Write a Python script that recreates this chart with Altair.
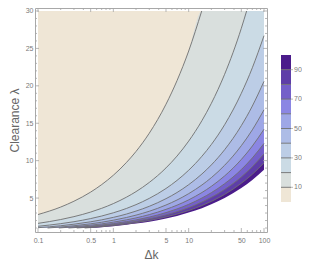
import altair as alt
import pandas as pd

# ---------------- data ----------------
dk_major = [0.1, 0.5, 1, 5, 10, 50, 100]
dk_minor = [0.2, 0.3, 0.4, 0.6, 0.7, 0.8, 0.9, 2, 3, 4, 6, 7, 8, 9,
            20, 30, 40, 60, 70, 80, 90]
lam_major = [5, 10, 15, 20, 25, 30]
lam_minor = [1, 2, 3, 4, 6, 7, 8, 9, 11, 12, 13, 14, 16, 17, 18, 19,
             21, 22, 23, 24, 26, 27, 28, 29]

levels = [10, 20, 30, 40, 50, 60, 70, 80, 90, 100]
legend_labels = [10, 30, 50, 70, 90]

band_names = ["0-10", "10-20", "20-30", "30-40", "40-50",
              "50-60", "60-70", "70-80", "80-90", "90-100"]
band_colors = ["#efe6d6", "#d9dfdd", "#cbdbe5", "#bccde6", "#adbce6",
               "#9ea7e6", "#8b86e3", "#7460c9", "#5e3ea8", "#4b1c8b"]

# contour lines (Δk, λ)
c10_dk = [0.1, 0.2, 0.3, 0.5, 0.7, 1, 1.5, 2, 3, 5, 7, 10, 14.9, 100]
c10_lam = [2.80, 3.80, 4.58, 5.80, 6.80, 8.05, 9.78, 11.23, 13.67, 17.54, 20.69, 24.65, 30, 30]

c20_dk = [0.1, 0.2, 0.3, 0.5, 0.7, 1, 1.5, 2, 3, 5, 7, 10, 15, 20, 30, 50, 58.8, 100]
c20_lam = [1.62, 2.13, 2.52, 3.13, 3.63, 4.26, 5.13, 5.86, 7.09, 9.03, 10.61, 12.61, 15.35, 17.66, 21.54, 27.69, 30, 30]

c30_dk = [0.1, 0.2, 0.3, 0.5, 0.7, 1, 1.5, 2, 3, 5, 7, 10, 15, 20, 30, 50, 70, 100]
c30_lam = [1.23, 1.58, 1.84, 2.26, 2.60, 3.03, 3.62, 4.12, 4.96, 6.28, 7.36, 8.72, 10.59, 12.16, 14.80, 19.00, 22.41, 26.70]

c40_dk = [0.1, 0.2, 0.3, 0.5, 0.7, 1, 1.5, 2, 3, 5, 7, 10, 15, 20, 30, 50, 70, 100]
c40_lam = [1.04, 1.30, 1.51, 1.83, 2.09, 2.42, 2.87, 3.26, 3.90, 4.92, 5.74, 6.79, 8.22, 9.43, 11.46, 14.68, 17.30, 20.60]

c50_dk = [0.134, 0.2, 0.3, 0.5, 0.7, 1, 1.5, 2, 3, 5, 7, 10, 15, 20, 30, 50, 70, 100]
c50_lam = [1.0, 1.13, 1.30, 1.56, 1.77, 2.04, 2.41, 2.72, 3.24, 4.07, 4.74, 5.59, 6.75, 7.73, 9.38, 12.00, 14.12, 16.80]

c60_dk = [0.189, 0.3, 0.5, 0.7, 1, 1.5, 2, 3, 5, 7, 10, 15, 20, 30, 50, 70, 100]
c60_lam = [1.0, 1.16, 1.38, 1.55, 1.78, 2.09, 2.35, 2.79, 3.49, 4.05, 4.76, 5.74, 6.57, 7.96, 10.16, 11.95, 14.20]

c70_dk = [0.254, 0.3, 0.5, 0.7, 1, 1.5, 2, 3, 5, 7, 10, 15, 20, 30, 50, 70, 100]
c70_lam = [1.0, 1.05, 1.24, 1.40, 1.59, 1.86, 2.08, 2.46, 3.06, 3.55, 4.16, 5.01, 5.72, 6.92, 8.81, 10.36, 12.30]

c80_dk = [0.327, 0.5, 0.7, 1, 1.5, 2, 3, 5, 7, 10, 15, 20, 30, 50, 70, 100]
c80_lam = [1.0, 1.14, 1.28, 1.45, 1.69, 1.88, 2.22, 2.75, 3.18, 3.72, 4.47, 5.10, 6.15, 7.82, 9.19, 10.90]

c90_dk = [0.416, 0.5, 0.7, 1, 1.5, 2, 3, 5, 7, 10, 15, 20, 30, 50, 70, 100]
c90_lam = [1.0, 1.06, 1.18, 1.33, 1.54, 1.72, 2.01, 2.48, 2.86, 3.34, 4.00, 4.56, 5.49, 6.98, 8.18, 9.70]

c100_dk = [0.51, 0.7, 1, 1.5, 2, 3, 5, 7, 10, 15, 20, 30, 50, 70, 100]
c100_lam = [1.0, 1.10, 1.24, 1.43, 1.59, 1.85, 2.28, 2.62, 3.06, 3.65, 4.16, 5.00, 6.34, 7.43, 8.80]

contours = [(c10_dk, c10_lam), (c20_dk, c20_lam), (c30_dk, c30_lam),
            (c40_dk, c40_lam), (c50_dk, c50_lam), (c60_dk, c60_lam),
            (c70_dk, c70_lam), (c80_dk, c80_lam), (c90_dk, c90_lam),
            (c100_dk, c100_lam)]

dk_range = [0.1, 100]
lam_range = [1, 30]

# ---------------- layout ----------------
W, H = 232, 224
FONT = "Liberation Sans"
LINE = "#6f6f6f"
TICK = "#a6a6a6"
LABEL = "#7a7a7a"

xs = alt.Scale(type="log", domain=[0.0912, 109.6], nice=False)
ys = alt.Scale(domain=[0.4655, 30.40], nice=False, zero=False)

x_axis = alt.Axis(values=dk_major, format="~g", ticks=False, domain=False,
                  grid=False, labelPadding=4, title="Δk", titlePadding=6,
                  labelFont=FONT, labelFontSize=7, labelColor=LABEL,
                  titleFont=FONT, titleFontSize=12, titleFontWeight="normal",
                  titleColor="#666666")
y_axis = alt.Axis(values=lam_major, ticks=False, domain=False, grid=False,
                  labelPadding=2, title="Clearance λ", titlePadding=4,
                  labelFont=FONT, labelFontSize=7, labelColor=LABEL,
                  titleFont=FONT, titleFontSize=12, titleFontWeight="normal",
                  titleColor="#666666")


def X():
    return alt.X("dk:Q", scale=xs, axis=x_axis)


layers = []

# background band (lowest values)
bg = pd.DataFrame({"dk": dk_range, "lam": [lam_range[1]] * 2, "base": [lam_range[0]] * 2})
layers.append(
    alt.Chart(bg).mark_area(color=band_colors[0], opacity=1).encode(
        x=X(), y=alt.Y("lam:Q", scale=ys, axis=y_axis), y2="base:Q"
    )
)

# painter's order: each region below a contour takes the next band's colour
fills = band_colors[1:] + ["#ffffff"]
for (cdk, clam), col in zip(contours, fills):
    df = pd.DataFrame({"dk": cdk, "lam": clam, "base": [lam_range[0]] * len(cdk)})
    layers.append(
        alt.Chart(df).mark_area(color=col, opacity=1, interpolate="monotone").encode(
            x=X(), y=alt.Y("lam:Q", scale=ys, axis=None), y2="base:Q"
        )
    )

# contour lines (skip the edge of the blank region)
for cdk, clam in contours[:-1]:
    keep_dk, keep_lam = [], []
    for d, l in zip(cdk, clam):
        keep_dk.append(d)
        keep_lam.append(l)
        if l >= lam_range[1]:
            break
    df = pd.DataFrame({"dk": keep_dk, "lam": keep_lam})
    layers.append(
        alt.Chart(df).mark_line(color=LINE, strokeWidth=0.9, interpolate="monotone").encode(
            x=X(), y=alt.Y("lam:Q", scale=ys, axis=None)
        )
    )


# frame ticks (inward, all four sides)
def xticks(vals, size):
    df = pd.DataFrame({"dk": vals})
    bot = alt.Chart(df).mark_rule(color=TICK, strokeWidth=0.8).encode(
        x=X(), y=alt.value(H), y2=alt.value(H - size))
    top = alt.Chart(df).mark_rule(color=TICK, strokeWidth=0.8).encode(
        x=X(), y=alt.value(0), y2=alt.value(size))
    return [bot, top]


def yticks(vals, size):
    df = pd.DataFrame({"lam": vals})
    left = alt.Chart(df).mark_rule(color=TICK, strokeWidth=0.8).encode(
        y=alt.Y("lam:Q", scale=ys, axis=None), x=alt.value(0), x2=alt.value(size))
    right = alt.Chart(df).mark_rule(color=TICK, strokeWidth=0.8).encode(
        y=alt.Y("lam:Q", scale=ys, axis=None), x=alt.value(W), x2=alt.value(W - size))
    return [left, right]


layers += xticks(dk_major, 4) + xticks(dk_minor, 2)
layers += yticks(lam_major, 4) + yticks(lam_minor, 2)

# ---------------- colour bar legend (own y scale) ----------------
ls = alt.Scale(domain=[0, 100], range=[194, 47], nice=False, zero=False)
leg_df = pd.DataFrame({"lo": [0] + levels[:-1], "hi": levels, "band": band_names})
bar = alt.Chart(leg_df).mark_rect().encode(
    y=alt.Y("lo:Q", scale=ls, axis=None), y2="hi:Q",
    x=alt.value(246), x2=alt.value(256),
    color=alt.Color("band:N", scale=alt.Scale(domain=band_names, range=band_colors), legend=None),
)
sep_df = pd.DataFrame({"v": levels[:-1]})
seps = alt.Chart(sep_df).mark_rule(color=LINE, strokeWidth=0.9).encode(
    y=alt.Y("v:Q", scale=ls, axis=None), x=alt.value(246), x2=alt.value(256))
lab_df = pd.DataFrame({"v": legend_labels, "t": [str(v) for v in legend_labels]})
ltick = alt.Chart(lab_df).mark_rule(color=TICK, strokeWidth=0.8).encode(
    y=alt.Y("v:Q", scale=ls, axis=None), x=alt.value(256), x2=alt.value(258))
ltext = alt.Chart(lab_df).mark_text(align="left", baseline="middle", font=FONT,
                                    fontSize=7, color=LABEL).encode(
    y=alt.Y("v:Q", scale=ls, axis=None), x=alt.value(259), text="t:N")

layers += [bar, seps, ltick, ltext]

chart = alt.layer(*layers).resolve_scale(y="independent").properties(
    width=W, height=H,
    autosize=alt.AutoSizeParams(type="none"),
    padding={"left": 27, "top": 0, "right": 35, "bottom": 29},
).configure_view(stroke="#a8a8a8", strokeWidth=1)

chart.save("out.html", embed_options={"renderer": "svg", "actions": False})
